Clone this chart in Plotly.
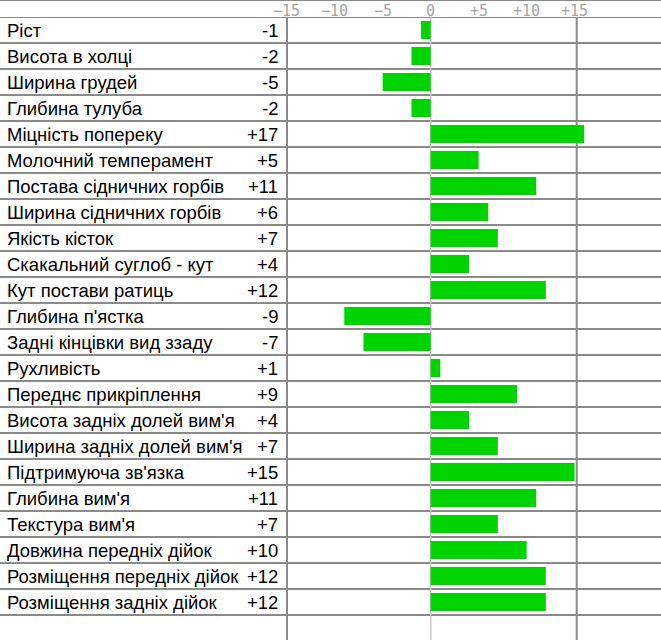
import plotly.graph_objects as go

categories = [
    "Ріст", "Висота в холці", "Ширина грудей", "Глибина тулуба",
    "Міцність попереку", "Молочний темперамент", "Постава сідничних горбів",
    "Ширина сідничних горбів", "Якість кісток", "Скакальний суглоб - кут",
    "Кут постави ратиць", "Глибина п'ястка", "Задні кінцівки вид ззаду",
    "Рухливість", "Переднє прикріплення", "Висота задніх долей вим'я",
    "Ширина задніх долей вим'я", "Підтримуюча зв'язка", "Глибина вим'я",
    "Текстура вим'я", "Довжина передніх дійок", "Розміщення передніх дійок",
    "Розміщення задніх дійок",
]
values = [-1, -2, -5, -2, 17, 5, 11, 6, 7, 4, 12, -9, -7, 1, 9, 4, 7, 15, 11, 7, 10, 12, 12]
tick_vals = [-15, -10, -5, 0, 5, 10, 15]
tick_text = ["\u221215", "\u221210", "\u22125", "0", "+5", "+10", "+15"]
BAR_LIMIT = 16  # bars are clipped just past the +15 mark in the original

W, H = 661, 640
TOP = 17          # px, header strip height
ROW = 26          # px per row
n = len(categories)
rows = list(range(n))
bar_len = [max(min(v, BAR_LIMIT), -BAR_LIMIT) for v in values]

y_bottom = (H - TOP) / ROW - 0.5

fig = go.Figure()
fig.add_trace(go.Bar(
    x=bar_len, y=rows, orientation="h",
    marker=dict(color="#00d400", line=dict(width=0)),
    width=18 / ROW, hoverinfo="skip",
))

grid = "#8a8a8a"
shapes = []
# top border
shapes.append(dict(type="line", xref="paper", yref="paper", x0=0, x1=1, y0=1, y1=1,
                   line=dict(color=grid, width=2)))
# row separators
for i in range(n + 1):
    shapes.append(dict(type="line", xref="paper", yref="y", x0=0, x1=1,
                       y0=i - 0.5, y1=i - 0.5, line=dict(color=grid, width=2), layer="below"))
# zero line
shapes.append(dict(type="line", xref="x", yref="paper", x0=0, x1=0, y0=0, y1=(H - TOP) / H,
                   line=dict(color="#c4c4c4", width=1.5), layer="below"))
# vertical borders
for px in (287, 576.7):
    shapes.append(dict(type="line", xref="paper", yref="paper", x0=px / W, x1=px / W,
                       y0=0, y1=(H - TOP) / H, line=dict(color=grid, width=2), layer="below"))

label_font = dict(family="Liberation Sans, Arial", size=18.5, color="#000")
tick_font = dict(family="DejaVu Sans Mono", size=15, color="#a4a4a4")
annotations = []
for i, (c, v) in enumerate(zip(categories, values)):
    annotations.append(dict(xref="paper", yref="y", x=5 / W, y=i, text=c, showarrow=False,
                            xanchor="left", yanchor="middle", font=label_font))
    annotations.append(dict(xref="paper", yref="y", x=280 / W, y=i, text=f"{v:+d}",
                            showarrow=False, xanchor="right", yanchor="middle", font=label_font))
# axis tick labels in the header strip (placed on the x scale)
for tv, tt in zip(tick_vals, tick_text):
    annotations.append(dict(xref="x", yref="paper", x=tv, y=1 - 11 / H, text=tt,
                            showarrow=False, xanchor="center", yanchor="middle",
                            font=tick_font))

fig.update_layout(
    width=W, height=H,
    margin=dict(l=0, r=0, t=0, b=0, pad=0, autoexpand=False),
    paper_bgcolor="white", plot_bgcolor="white",
    showlegend=False,
    shapes=shapes, annotations=annotations,
    xaxis=dict(domain=[286.7 / W, 1], range=[-15, 24], side="top",
               tickvals=tick_vals, showticklabels=False, ticks="",
               showgrid=False, zeroline=False, showline=False, fixedrange=True),
    yaxis=dict(domain=[0, (H - TOP) / H], range=[y_bottom, -0.5], visible=False,
               fixedrange=True),
)
fig.write_html(
    "out.html",
    config={"displayModeBar": False},
    post_script="document.documentElement.style.overflow='hidden';"
                "document.body.style.margin='0';document.body.style.overflow='hidden';",
)
